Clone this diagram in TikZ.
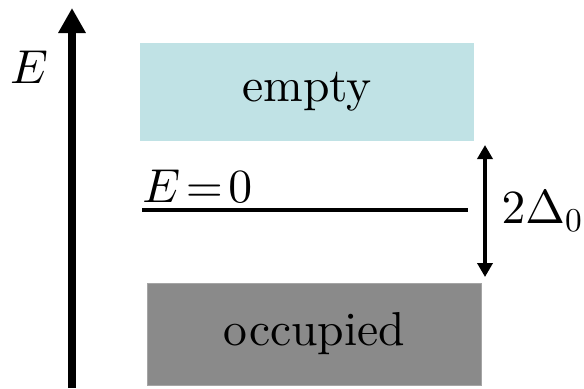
\documentclass[tikz,border=0pt]{standalone}
\usepackage{amsmath, amssymb}
\usepackage{fontspec}
\setmainfont{lmroman10-regular}[Extension=.otf]
\usepackage{tikz}
\usetikzlibrary{arrows.meta, positioning}

% math glyphs from the 10pt designs, scaled freely
\DeclareFontFamily{OML}{cmm}{\skewchar\font127 }
\DeclareFontShape{OML}{cmm}{m}{it}{<->cmmi10}{}
\DeclareFontFamily{OT1}{cmr}{\hyphenchar\font45 }
\DeclareFontShape{OT1}{cmr}{m}{n}{<->cmr10}{}

\definecolor{emptyfill}{RGB}{192,226,229}
\definecolor{occfill}{RGB}{138,138,138}
\definecolor{occedge}{RGB}{165,165,165}
\newcommand{\bandfont}{\fontsize{23.8}{28}\selectfont}

\begin{document}
\begin{tikzpicture}[
    x=0.5pt, y=-0.5pt,
    band/.style={rectangle, minimum width=167pt, minimum height=49pt, text centered, font=\bandfont},
    axis/.style={line width=4pt, -{Triangle[width=13pt, length=12.5pt]}},
    level/.style={line width=1.75pt},
    gap/.style={line width=2pt, {Triangle[width=7.5pt, length=7pt]}-{Triangle[width=7.5pt, length=7pt]}},
    every node/.append style={font=\bandfont}
]
    \useasboundingbox (0,0) rectangle (584,388);

    % Energy axis
    \coordinate (axbot) at (72,388);
    \coordinate (axtop) at (72,8);
    \draw[axis] (axbot) -- (axtop);
    \node (elabel) at (29,67) {$E$};

    % Bands
    \node[band, fill=emptyfill] (empty) at (307,92) {empty};
    \node[band, fill=occfill, draw=occedge, thin, minimum height=51pt] (occupied) at (314.5,334) {occupied};

    % Zero level
    \node[anchor=base west, inner sep=0pt] (zero) at (142,202) {$E\!=\!0$};
    \coordinate (zl) at (142,210);
    \coordinate (zr) at (468,210);
    \draw[level] (zl) -- (zr);

    % Gap
    \coordinate (gt) at (485,145);
    \coordinate (gb) at (485,277);
    \draw[gap] (gt) -- node[right, xshift=4pt] (gaplabel) {$2\Delta_0$} (gb);
\end{tikzpicture}
\end{document}
